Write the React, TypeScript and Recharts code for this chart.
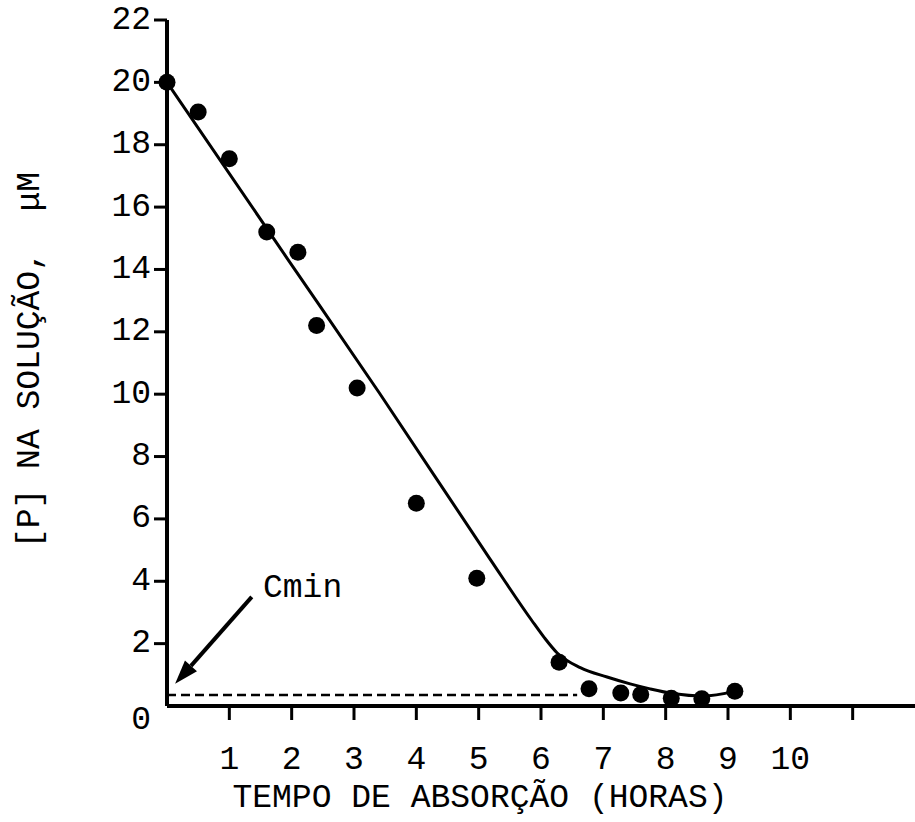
import React from "react";
import {
  ComposedChart,
  Line,
  Scatter,
  XAxis,
  YAxis,
  ReferenceLine,
  ReferenceDot,
} from "recharts";

// pontos medidos: [P] na solução (µM) x tempo de absorção (horas)
const horas = [0, 0.5, 1, 1.6, 2.1, 2.4, 3.05, 4, 4.97, 6.29, 6.77, 7.28, 7.6, 8.09, 8.58, 9.11];
const fosforo = [20, 19.05, 17.55, 15.2, 14.55, 12.2, 10.2, 6.5, 4.1, 1.4, 0.55, 0.42, 0.37, 0.25, 0.23, 0.47];

// curva ajustada (traçada à mão no original)
const curvaHoras = [0, 1.93, 3.41, 5.18, 5.85, 6.05, 6.26, 6.63, 7.06, 7.43, 7.75, 8.12, 8.6, 9.11];
const curvaValores = [20, 14.35, 10.03, 4.72, 2.75, 2.2, 1.7, 1.23, 0.93, 0.71, 0.55, 0.4, 0.32, 0.47];

const xTicks = [1, 2, 3, 4, 5, 6, 7, 8, 9, 10, 11];
const yTicks = [0, 2, 4, 6, 8, 10, 12, 14, 16, 18, 20, 22];

const cmin = 0.35;
const cminFim = 6.58;

const pontos = horas.map((x, i) => ({ x, y: fosforo[i] }));
const curva = curvaHoras.map((x, i) => ({ x, y: curvaValores[i] }));

const fonte = "'Liberation Mono', 'DejaVu Sans Mono', monospace";

function TickY(props: any) {
  const { x, y, payload } = props;
  const v = payload.value;
  return (
    <g>
      {v !== 0 && (
        <line x1={x + 3} x2={x + 16} y1={y} y2={y} stroke="#000" strokeWidth={3} />
      )}
      <text
        x={x}
        y={v === 0 ? y + 14 : y}
        textAnchor="end"
        dominantBaseline="central"
        fontFamily={fonte}
        fontSize={33}
        fill="#000"
      >
        {v}
      </text>
    </g>
  );
}

function Seta(props: any) {
  const { x1, y1, x2, y2 } = props;
  const a = Math.atan2(y2 - y1, x2 - x1);
  const len = 24;
  const w = 8;
  const bx = x2 - len * Math.cos(a);
  const by = y2 - len * Math.sin(a);
  const pts = [
    `${x2},${y2}`,
    `${bx - w * Math.sin(a)},${by + w * Math.cos(a)}`,
    `${bx + w * Math.sin(a)},${by - w * Math.cos(a)}`,
  ].join(" ");
  return (
    <g>
      <line x1={x1} y1={y1} x2={bx} y2={by} stroke="#000" strokeWidth={4} />
      <polygon points={pts} fill="#000" />
    </g>
  );
}

const Ponto = (p: any) => <circle cx={p.cx} cy={p.cy} r={8.5} fill="#000" />;

export default function App() {
  return (
    <div style={{ position: "absolute", left: 0, top: 0, background: "#fff" }}>
      <ComposedChart width={915} height={822} margin={{ top: 20, right: 0, bottom: 0, left: 0 }}>
        <XAxis
          type="number"
          dataKey="x"
          domain={[0, 12]}
          ticks={xTicks}
          tickFormatter={(v: number) => (v === 11 ? "" : String(v))}
          height={116}
          tickSize={14}
          tickMargin={26}
          axisLine={{ stroke: "#000", strokeWidth: 4 }}
          tickLine={{ stroke: "#000", strokeWidth: 3 }}
          tick={{ fill: "#000", fontSize: 33, fontFamily: fonte }}
          label={{
            value: "TEMPO DE ABSORÇÃO (HORAS)",
            position: "insideBottom",
            offset: 15,
            dx: -61,
            fill: "#000",
            fontSize: 33,
            fontFamily: fonte,
          }}
        />
        <YAxis
          type="number"
          dataKey="y"
          domain={[0, 22]}
          ticks={yTicks}
          width={167}
          tickSize={13}
          tickMargin={3}
          tickLine={false}
          axisLine={{ stroke: "#000", strokeWidth: 4 }}
          tick={<TickY />}
          label={{
            content: (p: any) => {
              const vb = p.viewBox;
              const cx = vb.x + 30;
              const cy = vb.y + vb.height / 2 - 3;
              return (
                <text
                  x={cx}
                  y={cy}
                  transform={`rotate(-90 ${cx} ${cy})`}
                  textAnchor="middle"
                  dominantBaseline="central"
                  fontFamily={fonte}
                  fontSize={33}
                  fill="#000"
                  style={{ whiteSpace: "pre" }}
                >
                  {"[P] NA SOLUÇÃO,  μM"}
                </text>
              );
            },
          }}
        />
        <ReferenceLine
          segment={[
            { x: 0, y: cmin },
            { x: cminFim, y: cmin },
          ]}
          stroke="#000"
          strokeWidth={2.5}
          strokeDasharray="9 5"
        />
        <ReferenceLine
          segment={[
            { x: 1.36, y: 3.5 },
            { x: 0.13, y: 0.71 },
          ]}
          shape={Seta}
        />
        <ReferenceDot
          x={1.46}
          y={3.88}
          r={0}
          fill="none"
          stroke="none"
          label={{
            value: "Cmin",
            position: "right",
            offset: 5,
            fill: "#000",
            fontSize: 33,
            fontFamily: fonte,
          }}
        />
        <Line
          data={curva}
          dataKey="y"
          type="monotone"
          stroke="#000"
          strokeWidth={3}
          dot={false}
          isAnimationActive={false}
        />
        <Scatter data={pontos} dataKey="y" fill="#000" shape={Ponto} isAnimationActive={false} />
      </ComposedChart>
    </div>
  );
}
